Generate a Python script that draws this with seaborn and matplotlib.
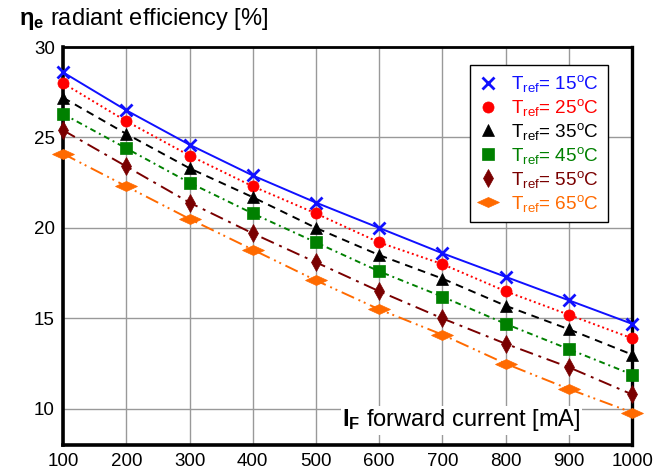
import numpy as np
import pandas as pd
import matplotlib
matplotlib.use("Agg")
import matplotlib.pyplot as plt
from matplotlib.markers import MarkerStyle
from matplotlib.transforms import Affine2D
from matplotlib.lines import Line2D
import seaborn as sns

# forward current [mA]
current = [100, 200, 300, 400, 500, 600, 700, 800, 900, 1000]

# radiant efficiency [%] per reference temperature
eff_15 = [28.6, 26.5, 24.6, 22.9, 21.4, 20.0, 18.6, 17.3, 16.0, 14.7]
eff_25 = [28.0, 25.9, 24.0, 22.3, 20.8, 19.2, 18.0, 16.5, 15.2, 13.9]
eff_35 = [27.2, 25.2, 23.3, 21.7, 20.0, 18.5, 17.2, 15.7, 14.4, 13.0]
eff_45 = [26.3, 24.4, 22.5, 20.8, 19.2, 17.6, 16.2, 14.7, 13.3, 11.9]
eff_55 = [25.4, 23.4, 21.4, 19.7, 18.1, 16.5, 15.0, 13.6, 12.3, 10.8]
eff_65 = [24.1, 22.3, 20.5, 18.8, 17.1, 15.5, 14.1, 12.5, 11.1, 9.8]

temps = [15, 25, 35, 45, 55, 65]
series = [eff_15, eff_25, eff_35, eff_45, eff_55, eff_65]

x_ticks = [100, 200, 300, 400, 500, 600, 700, 800, 900, 1000]
y_ticks = [10, 15, 20, 25, 30]

sns.set_theme(style="white")
plt.rcParams['font.family'] = ['Liberation Sans', 'DejaVu Sans']
plt.rcParams['mathtext.fontset'] = 'custom'
plt.rcParams['mathtext.rm'] = 'Liberation Sans'
plt.rcParams['mathtext.it'] = 'Liberation Sans'
plt.rcParams['mathtext.bf'] = 'Liberation Sans:bold'

colors = ['#1010ff', '#ff0000', '#000000', '#008000', '#7a0000', '#ff6a00']
linestyles = ['-', (0, (1, 1.5)), (0, (4, 3)), (0, (3, 2, 1, 2)),
              (0, (7, 3, 1.5, 3)), (0, (7, 2.5, 1, 2, 1, 2.5))]
wide_diamond = MarkerStyle('D', transform=Affine2D().scale(1.2, 0.62))
markers = ['x', 'o', '^', 's', 'd', wide_diamond]
msizes = [9, 8, 8, 8, 9, 9]

fig = plt.figure(figsize=(6.64, 4.70), dpi=100)
ax = fig.add_axes([0.095, 0.053, 0.857, 0.847])

df = pd.DataFrame({'current': current})
for t, vals, c, ls, m, ms in zip(temps, series, colors, linestyles, markers, msizes):
    df[f'T{t}'] = vals
    sns.lineplot(data=df, x='current', y=f'T{t}', ax=ax, color=c, linestyle=ls,
                 linewidth=1.4, marker=m, markersize=ms, markeredgewidth=2 if m == 'x' else 0.5,
                 markeredgecolor=c, markerfacecolor=c, clip_on=False, zorder=3)

ax.set_xlim(100, 1000)
ax.set_ylim(8, 30)
ax.set_xticks(x_ticks)
ax.set_yticks(y_ticks)
ax.tick_params(axis='both', labelsize=13.5, length=0, pad=6, colors='black')
ax.grid(True, color='#999999', linewidth=1.0)
ax.set_axisbelow(True)
for side, lw in [('left', 2.6), ('bottom', 2.6), ('top', 2.0), ('right', 2.4)]:
    ax.spines[side].set_visible(True)
    ax.spines[side].set_color('black')
    ax.spines[side].set_linewidth(lw)
ax.set_xlabel('')
ax.set_ylabel('')

# axis captions
fig.text(0.028, 0.932, r'$\mathbf{\eta_e}$ radiant efficiency [%]', fontsize=17,
         ha='left', va='bottom', color='black')
ax.text(0.91, 0.03, r'$\mathbf{I_F}$ forward current [mA]', fontsize=17,
        ha='right', va='bottom', color='black', transform=ax.transAxes,
        bbox=dict(facecolor='white', edgecolor='none', pad=1))

# legend with marker-only handles and coloured labels
handles = [Line2D([], [], linestyle='none', marker=m, color=c, markersize=ms,
                  markeredgewidth=2 if m == 'x' else 0.5)
           for c, m, ms in zip(colors, markers, msizes)]
labels = [r'$\mathregular{T_{ref}}$' + '= ' + f'{t}' + r'$\mathregular{^o}$C' for t in temps]
leg = ax.legend(handles, labels, loc='upper right', bbox_to_anchor=(0.957, 0.955),
                borderaxespad=0, fontsize=13.6, frameon=True, fancybox=False,
                edgecolor='black', framealpha=1, handlelength=1.0, handletextpad=0.75,
                labelspacing=0.15, borderpad=0.45)
leg.get_frame().set_linewidth(1.0)
for txt, c in zip(leg.get_texts(), colors):
    txt.set_color(c)

fig.savefig('out.png', dpi=100, facecolor='white')
